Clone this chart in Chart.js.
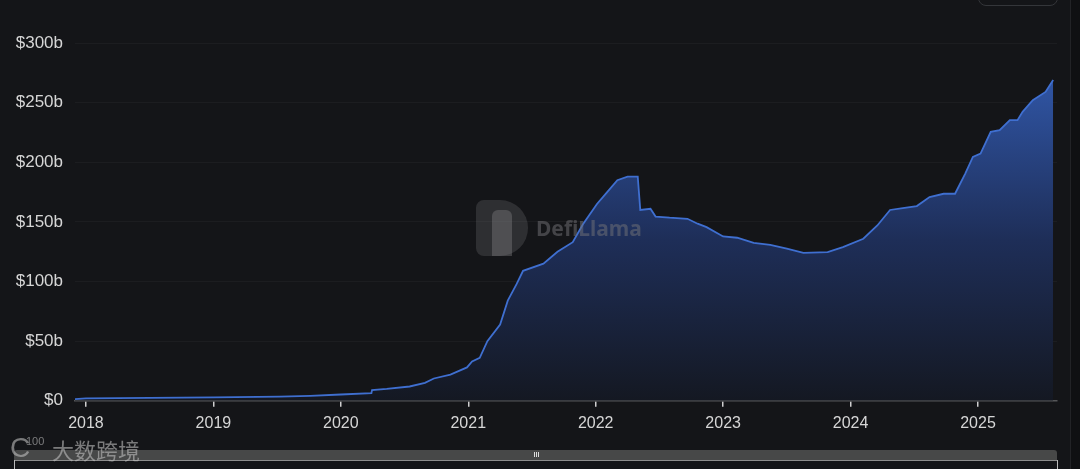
<!DOCTYPE html>
<html lang="en">
<head>
    <meta charset="UTF-8">
    <title>Stablecoin Market Cap</title>
    <script src="https://cdn.jsdelivr.net/npm/chart.js"></script>
    <style>
        html, body { margin: 0; padding: 0; background: #141518; overflow: hidden; }
        .wrap { position: relative; width: 1080px; height: 469px; }
        .wrap canvas { position: absolute; left: 0; top: 0; }
        .edge { position: absolute; left: 1070px; top: 0; width: 10px; height: 469px; background: #0f1012; border-left: 1px solid #222326; }
        .btn { position: absolute; left: 978px; top: -20px; width: 78px; height: 24px; border: 1.5px solid #34363a; border-radius: 8px; }
        .mark { position: absolute; left: 476px; top: 200px; pointer-events: none; }
        .mark .icon { position: absolute; left: 0; top: 0; width: 52px; height: 56px; background: rgba(110,110,114,0.3); border-radius: 8px 28px 28px 8px; }
        .mark .llama { position: absolute; left: 16px; top: 10px; width: 20px; height: 46px; background: rgba(140,140,142,0.35); border-radius: 6px 6px 0 0; }
        .mark .txt { position: absolute; left: 60px; top: 14px; font: bold 21px "Noto Sans", sans-serif; color: rgba(115,116,120,0.5); }
        .slider { position: absolute; left: 14px; top: 450px; width: 1043px; height: 10px; background: #474848; border-bottom: 1.5px solid #8d8d8d; border-radius: 3px 3px 0 0; }
        .grip { position: absolute; left: 520px; top: 2px; width: 1px; height: 5px; background: #ddd; box-shadow: 2px 0 0 #ddd, 4px 0 0 #ddd; }
        .handle { position: absolute; top: 460px; width: 1px; height: 9px; background: #bbb; }
        .logo-c { position: absolute; left: 10px; top: 434px; font: 28px/28px "Liberation Sans", sans-serif; color: rgba(190,190,190,0.6); }
        .logo-n { position: absolute; left: 26px; top: 436px; font: 11px/11px "Liberation Sans", sans-serif; color: rgba(190,190,190,0.6); }
        .logo-cn { position: absolute; left: 52px; top: 436px; font: 22px/26px "Noto Sans CJK SC", sans-serif; color: rgba(190,190,190,0.6); white-space: nowrap; }
    </style>
</head>
<body>
    <div class="wrap">
        <canvas id="tvlChart"></canvas>
        <div class="edge"></div>
        <div class="btn"></div>
        <div class="mark">
            <div class="icon"></div>
            <div class="llama"></div>
            <div class="txt">DefiLlama</div>
        </div>
        <div class="slider"><div class="grip"></div></div>
        <div class="handle" style="left:14px"></div>
        <div class="handle" style="left:1057px"></div>
        <div class="logo-c">C</div>
        <div class="logo-n">100</div>
        <div class="logo-cn">大数跨境</div>
    </div>
    <script>
        // dates as fractional years, values in $b
        const dates = [
            2017.914, 2018.0, 2018.5, 2019.0, 2019.52, 2019.76, 2020.0, 2020.24, 2020.245, 2020.36,
            2020.54, 2020.66, 2020.73, 2020.86, 2020.99, 2021.03, 2021.09, 2021.15, 2021.25, 2021.31,
            2021.38, 2021.43, 2021.59, 2021.70, 2021.82, 2021.90, 2022.01, 2022.09, 2022.17, 2022.25,
            2022.33, 2022.35, 2022.43, 2022.47, 2022.58, 2022.72, 2022.80, 2022.87, 2023.00, 2023.11,
            2023.24, 2023.37, 2023.50, 2023.63, 2023.82, 2023.94, 2024.10, 2024.21, 2024.31, 2024.41,
            2024.52, 2024.62, 2024.73, 2024.82, 2024.90, 2024.96, 2025.02, 2025.10, 2025.17, 2025.25,
            2025.31, 2025.35, 2025.43, 2025.53, 2025.59
        ];
        const mcap = [
            1.4, 2, 2.5, 2.8, 3.5, 4.2, 5.3, 6.5, 9, 10,
            12, 15, 18.7, 22, 28, 33, 36, 50, 64, 84,
            98, 109, 115, 125, 133, 148, 165, 175, 185, 188,
            188, 160, 161, 154.5, 153.5, 152.6, 148.5, 145.6, 137.8, 136.7,
            132.5, 130.8, 127.5, 124, 124.6, 128.8, 135.9, 147, 160, 161.6,
            163.3, 170.8, 173.6, 173.6, 190.5, 204.5, 207.3, 225.5, 227, 235.3,
            235.3, 242.3, 252, 259, 269
        ];
        const yearTicks = [2018, 2019, 2020, 2021, 2022, 2023, 2024, 2025];
        const yTicks = [0, 50, 100, 150, 200, 250, 300];

        const points = dates.map((d, i) => ({ x: d, y: mcap[i] }));

        const ctx = document.getElementById('tvlChart').getContext('2d');
        new Chart(ctx, {
            type: 'line',
            data: {
                datasets: [{
                    data: points,
                    borderColor: '#3f6fd0',
                    borderWidth: 1.8,
                    pointRadius: 0,
                    tension: 0,
                    fill: 'origin',
                    backgroundColor: (c) => {
                        const area = c.chart.chartArea;
                        if (!area) return 'rgba(40,70,140,0.5)';
                        const g = c.chart.ctx.createLinearGradient(0, area.top, 0, area.bottom);
                        g.addColorStop(0, 'rgba(52,94,182,1)');
                        g.addColorStop(0.55, 'rgba(30,46,88,1)');
                        g.addColorStop(1, 'rgba(20,24,34,1)');
                        return g;
                    }
                }]
            },
            options: {
                responsive: true,
                maintainAspectRatio: false,
                animation: false,
                layout: { padding: { top: 43, right: 23, bottom: 29, left: 0 } },
                plugins: { legend: { display: false }, tooltip: { enabled: false } },
                scales: {
                    x: {
                        type: 'linear',
                        min: 2017.914,
                        max: 2025.62,
                        afterBuildTicks: (s) => { s.ticks = yearTicks.map(v => ({ value: v })); },
                        ticks: {
                            color: '#d6d6d6',
                            font: { family: 'Liberation Sans', size: 16 },
                            padding: 7,
                            maxRotation: 0,
                            callback: (v) => String(v)
                        },
                        grid: { drawOnChartArea: false, drawTicks: true, tickLength: 6, color: '#cfcfcf', lineWidth: 1.5 },
                        border: { display: true, color: '#555658', width: 1.5 }
                    },
                    y: {
                        min: 0,
                        max: 300,
                        afterBuildTicks: (s) => { s.ticks = yTicks.map(v => ({ value: v })); },
                        afterFit: (s) => { s.width = 75; },
                        ticks: {
                            color: '#d6d6d6',
                            font: { family: 'Liberation Sans', size: 17 },
                            padding: 12,
                            callback: (v) => v === 0 ? '$0' : '$' + v + 'b'
                        },
                        grid: { color: 'rgba(255,255,255,0.035)', drawTicks: false },
                        border: { display: false }
                    }
                }
            }
        });
    </script>
</body>
</html>
